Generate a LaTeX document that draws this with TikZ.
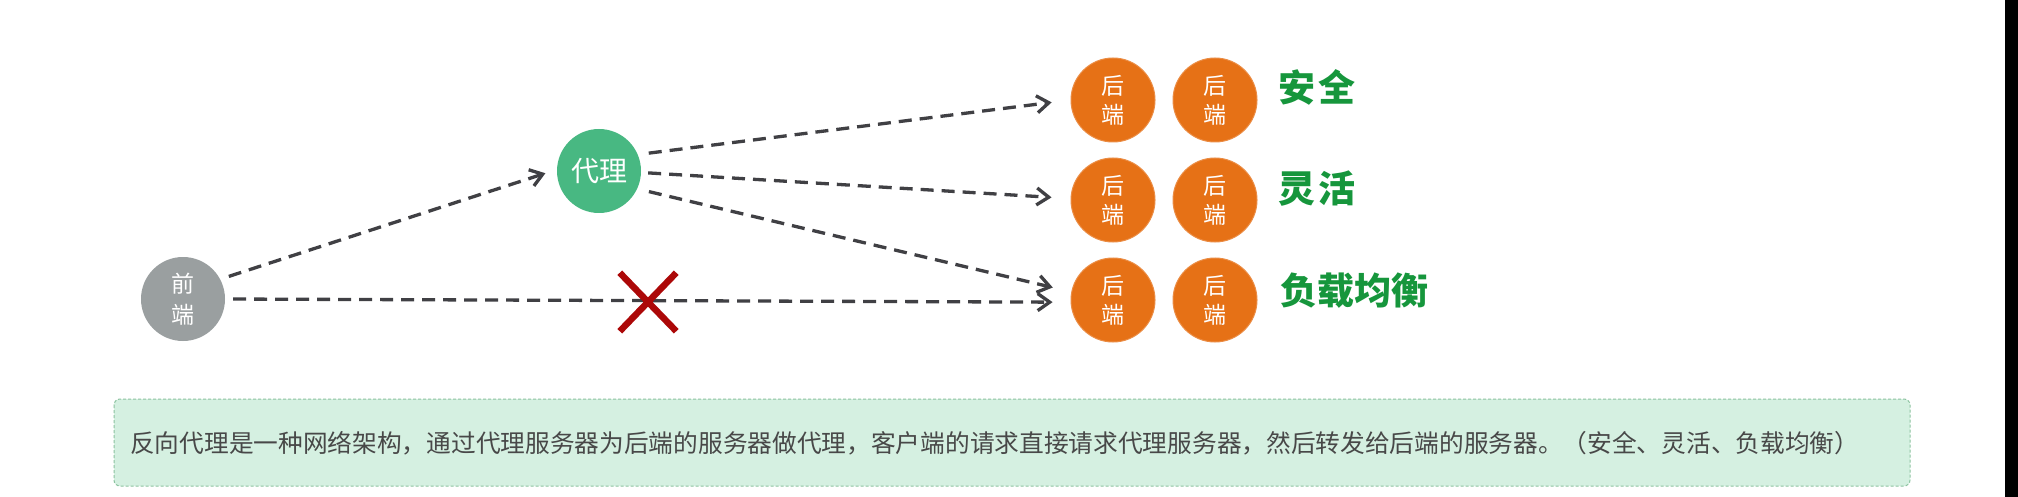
\documentclass[tikz,border=0pt]{standalone}
\usepackage{fontspec}
\setmainfont{Noto Sans CJK SC}
\usetikzlibrary{arrows.meta,shapes.misc}
\definecolor{qdgrey}{RGB}{154,159,160}
\definecolor{dlgreen}{RGB}{72,184,130}
\definecolor{beorange}{RGB}{230,113,22}
\definecolor{lblgreen}{RGB}{22,150,60}
\definecolor{xred}{RGB}{172,8,8}
\definecolor{linegrey}{RGB}{64,64,68}
\definecolor{boxfill}{RGB}{213,240,225}
\definecolor{boxborder}{RGB}{140,195,160}
\definecolor{textgrey}{RGB}{72,72,72}
\begin{document}
\begin{tikzpicture}[x=1pt,y=-1pt,
  bubble/.style={circle,inner sep=0pt,minimum size=84pt,text=white,align=center},
  frontbubble/.style={bubble,fill=qdgrey,font=\fontsize{23}{31}\selectfont},
  proxybubble/.style={bubble,fill=dlgreen,font=\fontsize{28}{30}\selectfont},
  backbubble/.style={bubble,fill=beorange,draw=beorange!80!white,line width=1pt,font=\fontsize{23}{29}\selectfont},
  featurelbl/.style={anchor=west,inner sep=0pt,text=lblgreen,font=\fontsize{37}{40}\selectfont\bfseries},
  dasharrow/.style={draw=linegrey,line width=3.3pt,dash pattern=on 13pt off 8pt,
    -{Straight Barb[length=12pt,width=17pt,line width=3.3pt]}},
  crossmark/.style={cross out,draw=xred,line width=6.5pt,minimum width=50pt,minimum height=52pt,inner sep=0pt}
]
\useasboundingbox (0,0) rectangle (2018,497);
\fill[white] (0,0) rectangle (2018,497);
\fill[black] (2005,0) rectangle (2018,497);

% nodes
\node[frontbubble] (qd) at (183,299) {前\\端};
\node[proxybubble] (dl) at (599,171) {代理};
\node[backbubble] (b11) at (1113,100) {后\\端};
\node[backbubble] (b12) at (1215,100) {后\\端};
\node[backbubble] (b21) at (1113,200) {后\\端};
\node[backbubble] (b22) at (1215,200) {后\\端};
\node[backbubble] (b31) at (1113,300) {后\\端};
\node[backbubble] (b32) at (1215,300) {后\\端};

\node[featurelbl] (l1) at (1278,87) {安\hspace{3pt}全};
\node[featurelbl] (l2) at (1278,189) {灵\hspace{3pt}活};
\node[featurelbl] (l3) at (1280,291) {负载均衡};

% connectors
\draw[dasharrow,shorten <=9pt,shorten >=12pt] (qd.28) -- (dl.178);
\draw[dasharrow,shorten <=11pt,shorten >=19pt] (dl.23) -- (b11.180);
\draw[dasharrow,shorten <=7pt,shorten >=19pt] (dl.-2) -- (b21.178);
\draw[dasharrow,shorten <=12pt,shorten >=19pt] (dl.-25) -- (b31.169);
\draw[dasharrow,shorten <=8pt,shorten >=18pt] (qd.0) -- (b31.-177);

\node[crossmark] (x) at (648,302) {};

% description box
\draw[boxborder,fill=boxfill,line width=1pt,dash pattern=on 3pt off 2pt,rounded corners=6pt]
  (114,399) rectangle (1910,486);
\node[anchor=west,inner sep=0pt,text=textgrey,font=\fontsize{24.7}{26}\selectfont] (desc) at (130,443)
  {反向代理是一种网络架构，通过代理服务器为后端的服务器做代理，客户端的请求直接请求代理服务器，然后转发给后端的服务器。（安全、灵活、负载均衡）};
\end{tikzpicture}
\end{document}
